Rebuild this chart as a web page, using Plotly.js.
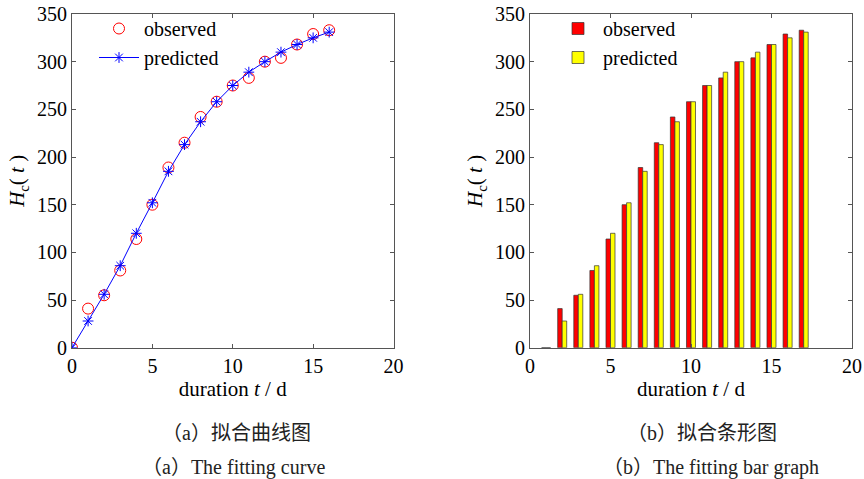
<!DOCTYPE html>
<html>
<head>
<meta charset="utf-8">
<script src="https://cdn.plot.ly/plotly-3.0.1.min.js"></script>
<style>html,body{margin:0;padding:0;background:#fff;}#chart{width:864px;height:479px;}</style>
</head>
<body>
<div id="chart"></div>
<script>
// Data
const days = [0,1,2,3,4,5,6,7,8,9,10,11,12,13,14,15,16];
const observed  = [0,41,55,81,114,150,189,215,242,258,275,283,300,304,318,329,333];
const predicted = [0,28,56,86,120,152,185,213,237,258,275,289,300,310,318,325,331];
// MATLAB bar() index positions (1..17) for the bar graph
const barIndex = [1,2,3,4,5,6,7,8,9,10,11,12,13,14,15,16,17];
const xTickVals = [0,5,10,15,20];
const yTickVals = [0,50,100,150,200,250,300,350];
const seriesNames = ['observed','predicted'];
const xTitle = 'duration <i>t</i> / d';
const yTitle = '<i>H</i><sub>c</sub>( <i>t</i> )';
const captions = ['（a）拟合曲线图','（a）The fitting curve','（b）拟合条形图','（b）The fitting bar graph'];

const W = 864, H = 479;
const serif = 'Liberation Serif, Times New Roman, serif';
const capFont = 'Liberation Serif, Noto Sans CJK SC, serif';

const traces = [
  {x: days, y: observed, name: seriesNames[0], type: 'scatter', mode: 'markers',
   marker: {symbol: 'circle-open', size: 11, color: '#ff0000', line: {width: 1, color: '#ff0000'}},
   xaxis: 'x', yaxis: 'y', legend: 'legend'},
  {x: days, y: predicted, name: seriesNames[1], type: 'scatter', mode: 'lines+markers',
   line: {color: '#0000ff', width: 1},
   marker: {symbol: 'asterisk-open', size: 9, color: '#0000ff', line: {width: 1, color: '#0000ff'}},
   xaxis: 'x', yaxis: 'y', legend: 'legend'},
  {x: barIndex, y: observed, name: seriesNames[0], type: 'bar',
   marker: {color: '#ff0000', line: {color: '#333333', width: 0.7}},
   xaxis: 'x2', yaxis: 'y2', legend: 'legend2'},
  {x: barIndex, y: predicted, name: seriesNames[1], type: 'bar',
   marker: {color: '#ffff00', line: {color: '#333333', width: 0.7}},
   xaxis: 'x2', yaxis: 'y2', legend: 'legend2'}
];

const yDom = [(H-347.7)/H, (H-14)/H];
function xAx(dom, anchor){
  return {domain: dom, anchor: anchor, range: [0,20], tickvals: xTickVals, ticks: 'inside', ticklen: 4,
    tickcolor: '#555', showline: true, linecolor: '#555', linewidth: 1, mirror: 'ticks',
    showgrid: false, zeroline: false, tickfont: {family: serif, size: 20, color: '#000'},
    title: {text: xTitle, font: {family: serif, size: 21, color: '#000'}, standoff: 5}, automargin: false, fixedrange: true};
}
function yAx(anchor){
  return {domain: yDom, anchor: anchor, range: [0,350], tickvals: yTickVals, ticks: 'inside', ticklen: 4,
    tickcolor: '#555', showline: true, linecolor: '#555', linewidth: 1, mirror: 'ticks',
    showgrid: false, zeroline: false, tickfont: {family: serif, size: 20, color: '#000'},
    title: {text: yTitle, font: {family: serif, size: 21, color: '#000'}, standoff: 6}, automargin: false, fixedrange: true};
}

const layout = {
  width: W, height: H, margin: {l: 0, r: 0, t: 0, b: 0},
  paper_bgcolor: '#fff', plot_bgcolor: '#fff',
  barmode: 'group', bargap: 0.44, bargroupgap: 0,
  xaxis: xAx([72/W, 393.5/W], 'y'),
  yaxis: yAx('x'),
  xaxis2: xAx([530/W, 852/W], 'y2'),
  yaxis2: yAx('x2'),
  legend: {x: 94/W, y: (H-9)/H, xanchor: 'left', yanchor: 'top', bgcolor: 'rgba(0,0,0,0)',
    font: {family: serif, size: 20, color: '#000'}, tracegroupgap: 0, itemwidth: 40},
  legend2: {x: 553/W, y: (H-9)/H, xanchor: 'left', yanchor: 'top', bgcolor: 'rgba(0,0,0,0)',
    font: {family: serif, size: 20, color: '#000'}, tracegroupgap: 0, itemwidth: 40},
  showlegend: true,
  annotations: [
    {text: captions[0], x: 236/W, y: (H-433)/H, xanchor: 'center', yanchor: 'middle', xref: 'paper', yref: 'paper', showarrow: false, font: {family: capFont, size: 20, color: '#222'}},
    {text: captions[1], x: 233/W, y: (H-467)/H, xanchor: 'center', yanchor: 'middle', xref: 'paper', yref: 'paper', showarrow: false, font: {family: capFont, size: 20, color: '#222'}},
    {text: captions[2], x: 702/W, y: (H-433)/H, xanchor: 'center', yanchor: 'middle', xref: 'paper', yref: 'paper', showarrow: false, font: {family: capFont, size: 20, color: '#222'}},
    {text: captions[3], x: 711/W, y: (H-467)/H, xanchor: 'center', yanchor: 'middle', xref: 'paper', yref: 'paper', showarrow: false, font: {family: capFont, size: 20, color: '#222'}}
  ]
};

Plotly.newPlot('chart', traces, layout, {displayModeBar: false, staticPlot: true});
</script>
</body>
</html>
